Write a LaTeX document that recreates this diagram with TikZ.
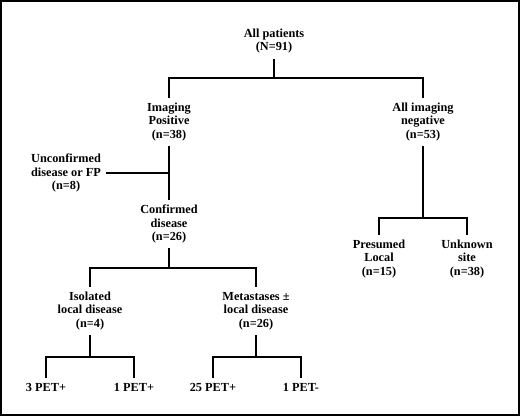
\documentclass[tikz,border=0pt]{standalone}
\usepackage{fontspec}
\setmainfont{Liberation Serif}
\usepackage{tikz}
\tikzset{
  box/.style={align=center, inner sep=5pt, font=\fontsize{12.3}{13.5}\selectfont\bfseries},
  branch/.style={line width=1.2pt},
}
\begin{document}
\begin{tikzpicture}[x=1pt,y=-1pt]
  \useasboundingbox (0,0) rectangle (520,416);
  \draw[line width=2.4pt] (1.2,1.2) rectangle (518.8,414.8);

  % root and first split
  \node[box] (all) at (274,41) {All patients\\(N=91)};
  \node[box] (pos) at (169,122) {Imaging\\Positive\\(n=38)};
  \node[box] (neg) at (423,122) {All imaging\\negative\\(n=53)};
  \coordinate (j1) at (274,78);
  \draw[branch] (all) -- (j1);
  \draw[branch] (pos) |- (j1) -| (neg);

  % imaging positive
  \node[box] (unconf) at (66,173) {Unconfirmed\\disease or FP\\(n=8)};
  \node[box] (conf) at (169,224) {Confirmed\\disease\\(n=26)};
  \draw[branch] (pos) -- (conf);
  \draw[branch] (unconf) -- (unconf -| pos);

  % all imaging negative
  \node[box] (pres) at (379,259) {Presumed\\Local\\(n=15)};
  \node[box] (unk) at (467,259) {Unknown\\site\\(n=38)};
  \coordinate (j4) at (423,218);
  \draw[branch] (neg) -- (j4);
  \draw[branch] (pres) |- (j4) -| (unk);

  % confirmed disease
  \node[box] (iso) at (90,311) {Isolated\\local disease\\(n=4)};
  \node[box] (met) at (256,311) {Metastases ±\\local disease\\(n=26)};
  \coordinate (j3) at (169,268);
  \draw[branch] (conf) -- (j3);
  \draw[branch] (iso) |- (j3) -| (met);

  % PET results
  \node[box] (iso3) at (46,387) {3 PET+};
  \node[box] (iso1) at (134,387) {1 PET+};
  \node[box] (met25) at (213,387) {25 PET+};
  \node[box] (met1) at (301,387) {1 PET-};
  \coordinate (j5) at (90,357);
  \coordinate (j6) at (256,357);
  \draw[branch] (iso) -- (j5);
  \draw[branch] (iso3) |- (j5) -| (iso1);
  \draw[branch] (met) -- (j6);
  \draw[branch] (met25) |- (j6) -| (met1);
\end{tikzpicture}
\end{document}
